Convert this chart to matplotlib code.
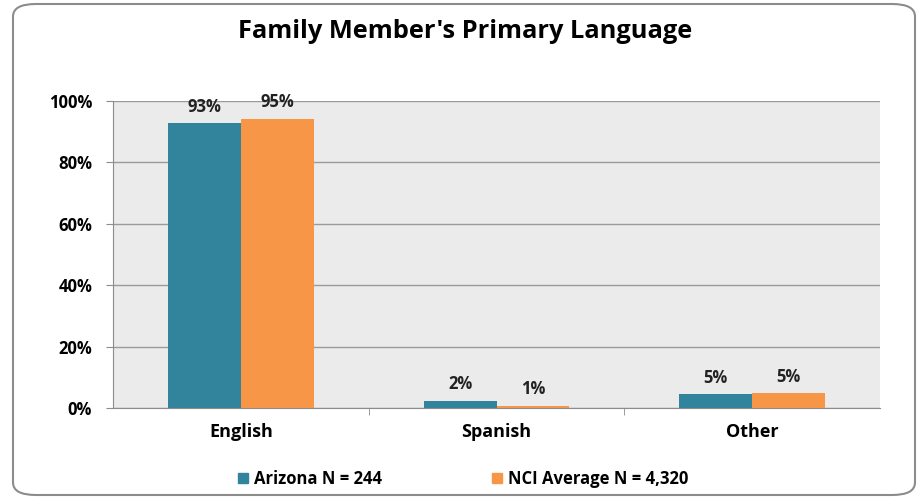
import matplotlib.pyplot as plt
import numpy as np
from matplotlib.patches import FancyBboxPatch, Patch

categories = ["English", "Spanish", "Other"]
arizona = [92.7, 2.4, 4.5]
nci = [94.2, 0.6, 4.8]
arizona_labels = ["93%", "2%", "5%"]
nci_labels = ["95%", "1%", "5%"]
series_names = ["Arizona N = 244", "NCI Average N = 4,320"]
yticks = [0, 20, 40, 60, 80, 100]

teal = "#31849B"
orange = "#F79646"

plt.rcParams['font.family'] = ['Open Sans', 'DejaVu Sans']

fig = plt.figure(figsize=(9.19, 4.99), dpi=100)
W, H = 919, 499

# rounded frame round the chart
frame = FancyBboxPatch((13 / W, 4 / H), 902 / W, 491 / H,
                       boxstyle="round,pad=0,rounding_size=0.025",
                       transform=fig.transFigure, fill=False,
                       edgecolor="#8c8c8c", linewidth=1.5)
fig.patches.append(frame)

ax = fig.add_axes([113 / W, (H - 408) / H, (880 - 113) / W, (408 - 101) / H])
ax.set_facecolor("#EBEBEB")

x = np.arange(len(categories))
w = 0.285
ax.bar(x - w / 2, arizona, w, color=teal, zorder=3)
ax.bar(x + w / 2, nci, w, color=orange, zorder=3)

for i in range(len(categories)):
    ax.text(x[i] - w / 2, arizona[i] + 2.5, arizona_labels[i], ha="center",
            va="bottom", fontsize=12, fontweight="bold", color="#222222")
    ax.text(x[i] + w / 2, nci[i] + 2.5, nci_labels[i], ha="center",
            va="bottom", fontsize=12, fontweight="bold", color="#222222")

ax.set_xlim(-0.5, 2.5)
ax.set_ylim(0, 100)
ax.set_yticks(yticks)
ax.set_yticklabels([f"{t}%" for t in yticks], fontsize=12, fontweight="bold")
ax.yaxis.grid(True, color="#9a9a9a", linewidth=1, zorder=0)
ax.set_xticks([0.5, 1.5], minor=True)
ax.set_xticks(x)
ax.set_xticklabels(categories, fontsize=13, fontweight="bold")
ax.tick_params(axis="x", which="major", length=0, pad=11)
ax.tick_params(axis="x", which="minor", length=5, color="#8c8c8c", direction="out")
ax.tick_params(axis="y", length=5, color="#8c8c8c", pad=10)
for s in ["top", "right"]:
    ax.spines[s].set_visible(False)
for s in ["left", "bottom"]:
    ax.spines[s].set_color("#8c8c8c")

fig.text(465 / W, 1 - 32 / H, "Family Member's Primary Language", ha="center",
         va="center", fontsize=18.3, fontweight="bold")

handles = [Patch(color=teal, label=series_names[0]),
           Patch(color=orange, label=series_names[1])]
leg = fig.legend(handles=handles, loc="center", bbox_to_anchor=(463 / W, 1 - 479 / H),
                 ncol=2, frameon=False, handlelength=0.6, handleheight=0.6,
                 handletextpad=0.35, columnspacing=6.6,
                 prop={"size": 12, "weight": "bold"})

fig.savefig("out.png", dpi=100)
